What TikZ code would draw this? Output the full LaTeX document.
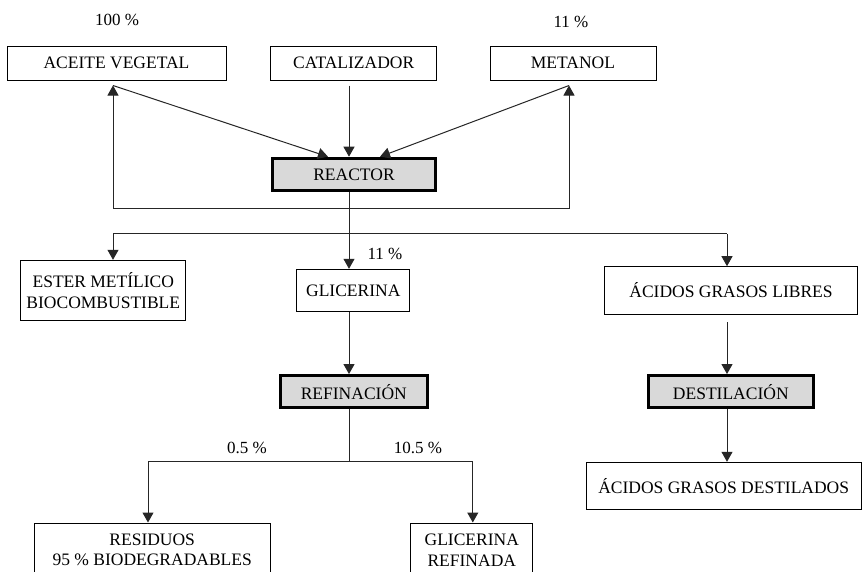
\documentclass[tikz,border=0pt]{standalone}
\usepackage{fontspec}
\setmainfont{Liberation Serif}
\usetikzlibrary{arrows.meta}
\tikzset{
  box/.style={draw=black, line width=1pt, rectangle, inner sep=0pt, align=center,
              font=\fontsize{17.5}{20.5}\selectfont},
  procbox/.style={box, line width=3pt, fill=gray!30},
  conn/.style={draw=black!85, line width=1pt},
  arr/.style={conn, -{Triangle[length=10pt,width=11pt]}},
  pct/.style={inner sep=0pt, font=\fontsize{17}{20}\selectfont}
}
\begin{document}
\begin{tikzpicture}[x=1pt,y=-1pt]
\useasboundingbox (0,0) rectangle (862,571);
\clip (0,0) rectangle (862,571);
\fill[white] (0,0) rectangle (862,571);

% boxes
\node[box, minimum width=219pt, minimum height=34pt] (aceite) at (116.5,63) {ACEITE VEGETAL};
\node[box, minimum width=166pt, minimum height=34pt] (catal) at (353.7,63) {CATALIZADOR};
\node[box, minimum width=166pt, minimum height=34pt] (metanol) at (573,63) {METANOL};
\node[procbox, minimum width=163.6pt, minimum height=32.6pt] (reactor) at (354,174.5) {REACTOR};
\node[box, minimum width=165.3pt, minimum height=60.4pt] (ester) at (103.3,290.5) {ESTER METÍLICO\\BIOCOMBUSTIBLE};
\node[box, minimum width=113.3pt, minimum height=42.4pt] (glic) at (353.3,290.5) {GLICERINA};
\node[box, minimum width=253.7pt, minimum height=47.6pt] (libres) at (731,290.5) {ÁCIDOS GRASOS LIBRES};
\node[procbox, minimum width=146.7pt, minimum height=32.3pt] (refin) at (353.8,391.7) {REFINACIÓN};
\node[procbox, minimum width=164.7pt, minimum height=32.3pt] (destil) at (730.8,391.7) {DESTILACIÓN};
\node[box, minimum width=274.7pt, minimum height=47pt] (destilados) at (723.7,485.8) {ÁCIDOS GRASOS DESTILADOS};
\node[box, minimum width=235.7pt, minimum height=54pt] (resid) at (152.2,550) {RESIDUOS\\95 \% BIODEGRADABLES};
\node[box, minimum width=121.7pt, minimum height=54pt] (glicref) at (471.8,550) {GLICERINA\\REFINADA};

% labels
\node[pct] (p100) at (117,20) {100 \%};
\node[pct] (p11a) at (571,22) {11 \%};
\node[pct] (p11b) at (385,254) {11 \%};
\node[pct] (p05) at (247,448) {0.5 \%};
\node[pct] (p105) at (418,448) {10.5 \%};

% helper coordinates
\coordinate (aS) at ([shift={(-3.5,5)}]aceite.south);
\coordinate (cS) at ([shift={(-4.7,5)}]catal.south);
\coordinate (mS) at ([shift={(-4,5)}]metanol.south);
\coordinate (rN1) at ([xshift=-26]reactor.north);
\coordinate (rN2) at ([xshift=-5]reactor.north);
\coordinate (rN3) at ([xshift=26]reactor.north);
\coordinate (rS) at ([xshift=-5]reactor.south);
\coordinate (loopL) at ([shift={(0,123)}]aS);
\coordinate (loopR) at ([shift={(0,123)}]mS);
\coordinate (split1) at ([shift={(0,41.5)}]rS);
\coordinate (eN) at ([xshift=9.7]ester.north);
\coordinate (gN) at ([xshift=-4.3]glic.north);
\coordinate (lN) at ([xshift=-4]libres.north);
\coordinate (gS) at ([xshift=-4.3]glic.south);
\coordinate (fN) at ([xshift=-4.8]refin.north);
\coordinate (fS) at ([xshift=-4.8]refin.south);
\coordinate (split2) at ([shift={(0,52.5)}]fS);
\coordinate (rsN) at ([xshift=-4.2]resid.north);
\coordinate (grN) at ([xshift=1]glicref.north);
\coordinate (lS) at ([shift={(-4,7.5)}]libres.south);
\coordinate (dN) at ([xshift=-3.8]destil.north);
\coordinate (dS) at ([xshift=-3.8]destil.south);
\coordinate (dsN) at ([xshift=3.3]destilados.north);

% inputs to reactor
\draw[arr] (aS) -- (rN1);
\draw[arr] (cS) -- (rN2);
\draw[arr] (mS) -- (rN3);
% recycle loop
\draw[conn] (loopL) -- (loopR);
\draw[arr] (loopL) -- (aS);
\draw[arr] (loopR) -- (mS);
% reactor outputs
\draw[conn] (rS) -- (split1);
\draw[conn] (eN |- split1) -- (lN |- split1);
\draw[arr] (eN |- split1) -- (eN);
\draw[arr] (split1) -- (gN);
\draw[arr] (lN |- split1) -- (lN);
% glicerina branch
\draw[arr] (gS) -- (fN);
\draw[conn] (fS) -- (split2);
\draw[conn] (rsN |- split2) -- (grN |- split2);
\draw[arr] (rsN |- split2) -- (rsN);
\draw[arr] (grN |- split2) -- (grN);
% acidos branch
\draw[arr] (lS) -- (dN);
\draw[arr] (dS) -- (dsN);
\end{tikzpicture}
\end{document}
